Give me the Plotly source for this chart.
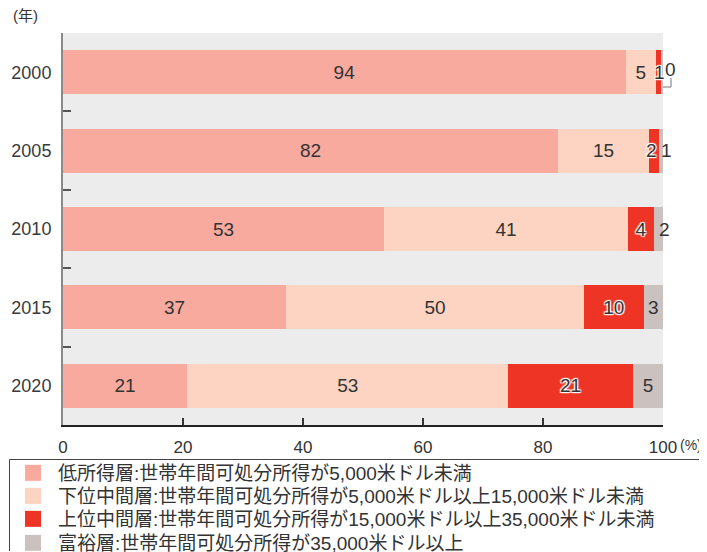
import plotly.graph_objects as go

years = ["2000", "2005", "2010", "2015", "2020"]
series_names = [
    "低所得層:世帯年間可処分所得が5,000米ドル未満",
    "下位中間層:世帯年間可処分所得が5,000米ドル以上15,000米ドル未満",
    "上位中間層:世帯年間可処分所得が15,000米ドル以上35,000米ドル未満",
    "富裕層:世帯年間可処分所得が35,000米ドル以上",
]
low = [93.8, 82.5, 53.5, 37.2, 20.7]
lower_mid = [5.0, 15.2, 40.7, 49.6, 53.5]
upper_mid = [0.8, 1.6, 4.3, 10.0, 20.8]
rich = [0.4, 0.7, 1.5, 3.2, 5.0]

low_labels = ["94", "82", "53", "37", "21"]
lower_mid_labels = ["5", "15", "41", "50", "53"]
upper_mid_labels = ["1", "2", "4", "10", "21"]
rich_labels = ["0", "1", "2", "3", "5"]

colors = ["#f9aa9f", "#fdd3c2", "#ee3424", "#cbc2bf"]
x_ticks = [0, 20, 40, 60, 80, 100]

FONT = "Liberation Sans, Noto Sans CJK JP, sans-serif"
TXT = "#333333"
HALO = "1px 1px 1px white, -1px -1px 1px white, 1px -1px 1px white, -1px 1px 1px white, 0 0 2px white"

# page-pixel layout helpers (plot area: x 63..663, y 33..425)
PX0, PW, PY1, PH = 63, 600, 425, 392


def px(xp):
    return (xp - PX0) / PW


def py(yp):
    return (PY1 - yp) / PH


values = [low, lower_mid, upper_mid, rich]
labels = [low_labels, lower_mid_labels, upper_mid_labels, rich_labels]

# labels shown as annotations instead of bar text (segment too narrow)
small = {(2, 0): (1, 0), (3, 0): (7, 3), (2, 1): (-2.5, 0), (3, 1): (3, 0), (3, 2): (1, 0)}

legend_tops = [454, 477, 500, 524]
legend_keys = ["legend", "legend2", "legend3", "legend4"]

fig = go.Figure()
for si, (vals, labs) in enumerate(zip(values, labels)):
    txt = [("" if (si, i) in small else labs[i]) for i in range(len(years))]
    fig.add_trace(go.Bar(
        y=years, x=vals, orientation="h", name=series_names[si],
        marker=dict(color=colors[si], line=dict(width=0)),
        text=txt, textposition="inside", insidetextanchor="middle",
        textangle=0, constraintext="none",
        textfont=dict(family=FONT, size=19, color=TXT,
                      shadow=HALO if si == 2 else "none"),
        showlegend=False, hoverinfo="skip",
    ))
    # legend-only marker on a hidden axis pair
    fig.add_trace(go.Scatter(
        x=[-10], y=[-10], xaxis="x2", yaxis="y2", mode="markers",
        name=series_names[si], legend=legend_keys[si],
        marker=dict(symbol="square", size=16, color=colors[si]),
        showlegend=True, hoverinfo="skip",
    ))

annotations = []
for (si, i), (dx, dy) in small.items():
    start = sum(values[k][i] for k in range(si))
    xpos = 100.0 if si == 3 else start + values[si][i] / 2
    annotations.append(dict(
        x=xpos, y=i, xref="x", yref="y", text=labels[si][i],
        showarrow=False, xanchor="center", yanchor="middle",
        xshift=dx, yshift=dy,
        font=dict(family=FONT, size=19, color=TXT,
                  shadow=HALO if si == 2 else "none"),
    ))

annotations.append(dict(x=px(25), y=py(15), xref="paper", yref="paper",
                        text="(年)", showarrow=False, xanchor="center", yanchor="middle",
                        font=dict(family=FONT, size=15, color=TXT)))
annotations.append(dict(x=100, y=py(445), xref="x", yref="paper", text="(%)",
                        showarrow=False, xanchor="left", yanchor="middle", xshift=15,
                        font=dict(family=FONT, size=14, color=TXT)))

legend_common = dict(
    xanchor="left", yanchor="top", borderwidth=0, bgcolor="rgba(255,255,255,0)",
    font=dict(family=FONT, size=19, color=TXT), itemwidth=40,
)
legends = {}
for k, top in zip(legend_keys, legend_tops):
    legends[k] = dict(x=px(8), y=py(top), **legend_common)

fig.update_layout(
    width=699, height=544,
    margin=dict(l=55, r=44, t=25, b=127, autoexpand=False),
    barmode="stack", bargap=0.44,
    plot_bgcolor="#ececec", paper_bgcolor="white",
    font=dict(family=FONT, size=17, color=TXT),
    annotations=annotations,
    xaxis=dict(
        range=[0, 100], tickvals=x_ticks, ticktext=[str(v) for v in x_ticks],
        showgrid=False, zeroline=False,
        showline=True, linecolor="#222222", linewidth=2,
        ticks="inside", ticklen=7, tickcolor="#333333", tickwidth=1.5,
        ticklabelstandoff=6, tickfont=dict(size=17, color=TXT),
        fixedrange=True,
    ),
    yaxis=dict(
        type="category", categoryorder="array", categoryarray=years,
        range=[4.5, -0.5],
        showgrid=False, zeroline=False,
        showline=True, linecolor="#8a8a8a", linewidth=2,
        ticks="inside", tickson="boundaries", ticklen=8,
        tickcolor="#555555", tickwidth=1.5,
        ticklabelstandoff=6, tickfont=dict(size=18, color="#3a3a3a"),
        fixedrange=True,
    ),
    xaxis2=dict(range=[0, 1], visible=False, overlaying="x", fixedrange=True),
    yaxis2=dict(range=[0, 1], visible=False, overlaying="y", fixedrange=True),
    **legends,
)

# legend frame, drawn as separate lines inside the visible page area
frame = [((9.5, 459.5), (705.5, 459.5)), ((9.5, 459.5), (9.5, 551)), ((705.5, 459.5), (705.5, 551))]
for (xa, ya), (xb, yb) in frame:
    fig.add_shape(type="line", xref="paper", yref="paper", layer="above",
                  x0=px(xa), y0=py(ya), x1=px(xb), y1=py(yb),
                  line=dict(color="#444444", width=1))
# leader line from the 2000 bar end to its outside label
fig.add_shape(type="path", xref="paper", yref="paper",
              path=f"M {px(663)},{py(87)} L {px(671)},{py(87)} L {px(671)},{py(78)}",
              line=dict(color="#777777", width=1))

fig.write_html("out.html")
